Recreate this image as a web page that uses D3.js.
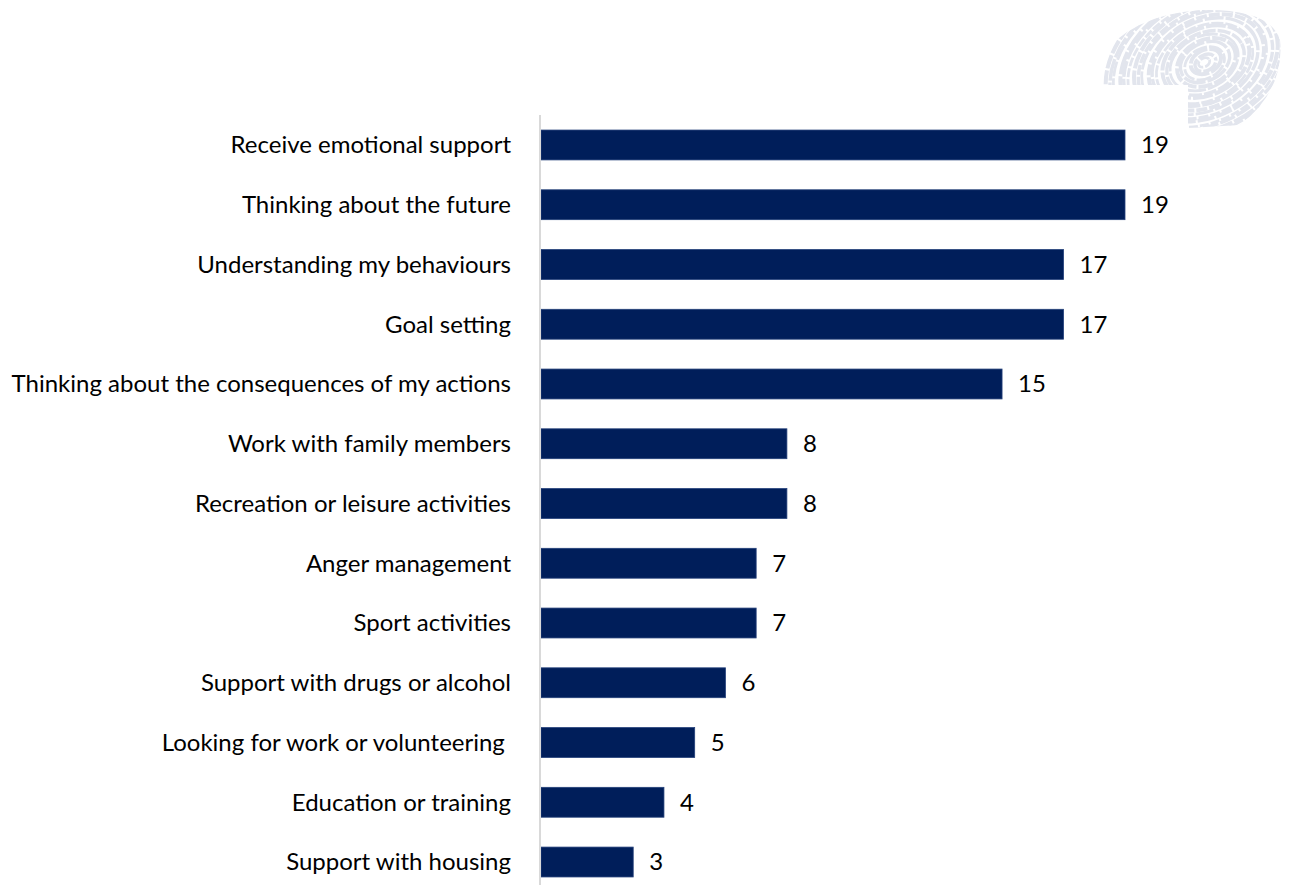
<!DOCTYPE html>
<html>
<head>
<meta charset="utf-8">
<script src="https://cdn.jsdelivr.net/npm/d3@7"></script>
<style>
  html, body { margin: 0; padding: 0; background: #ffffff; }
  svg { display: block; }
  text { font-family: Lato, "Open Sans", sans-serif; fill: #000000; }
</style>
</head>
<body>
<svg id="chart" width="1292" height="885"></svg>
<script>
// Support areas and share of responses
const categories = [
  "Receive emotional support",
  "Thinking about the future",
  "Understanding my behaviours",
  "Goal setting",
  "Thinking about the consequences of my actions",
  "Work with family members",
  "Recreation or leisure activities",
  "Anger management",
  "Sport activities",
  "Support with drugs or alcohol",
  "Looking for work or volunteering ",
  "Education or training",
  "Support with housing"
];
const values = [19, 19, 17, 17, 15, 8, 8, 7, 7, 6, 5, 4, 3];
const valueLabels = ["19", "19", "17", "17", "15", "8", "8", "7", "7", "6", "5", "4", "3"];

const svg = d3.select("#chart");
const W = 1292, H = 885;
const left = 541;

const x = d3.scaleLinear().domain([0, 19]).range([left, 1125]);
const y = d3.scaleBand()
  .domain(categories)
  .range([115.1, 891.9])
  .paddingInner(0.5)
  .paddingOuter(0.25);

// Decorative swirl mark, top right
const clip = svg.append("defs").append("clipPath").attr("id", "markClip");
clip.append("path").attr("d", "M1098,85 L1098,60 Q1130,15 1200,10 Q1270,8 1280,40 Q1285,90 1240,125 L1188,128 L1188,85 Z");
const mg = svg.append("g").attr("class", "mark").attr("clip-path", "url(#markClip)");
const cx = 1205, cy = 62;
d3.range(6, 110, 5).forEach((r, i) => {
  mg.append("ellipse")
    .attr("cx", cx + (i % 3) - 1)
    .attr("cy", cy + (i % 2))
    .attr("rx", r)
    .attr("ry", r * 0.72)
    .attr("transform", `rotate(-28 ${cx} ${cy})`)
    .attr("fill", "none")
    .attr("stroke", "#e2e5ed")
    .attr("stroke-width", 2.8 + (i % 3) * 0.6)
    .attr("stroke-dasharray", `${9 + (i * 7) % 15} ${2 + (i * 5) % 5}`)
    .attr("stroke-dashoffset", i * 13);
});

// Bars
svg.append("g").selectAll("rect")
  .data(categories)
  .join("rect")
  .attr("x", x(0))
  .attr("y", d => y(d))
  .attr("width", (d, i) => x(values[i]) - x(0))
  .attr("height", y.bandwidth())
  .attr("fill", "#001e5a")
  .attr("stroke", "#24407a")
  .attr("stroke-width", 0.8);

// Category axis line
svg.append("line")
  .attr("x1", 540).attr("x2", 540)
  .attr("y1", 115).attr("y2", H)
  .attr("stroke", "#d9d9d9")
  .attr("stroke-width", 2);

// Category labels
svg.append("g").selectAll("text")
  .data(categories)
  .join("text")
  .attr("x", 511)
  .attr("y", d => y(d) + y.bandwidth() / 2)
  .attr("dy", "0.35em")
  .attr("text-anchor", "end")
  .attr("xml:space", "preserve")
  .style("white-space", "pre")
  .style("font-size", "24px")
  .text(d => d);

// Value labels
svg.append("g").selectAll("text")
  .data(categories)
  .join("text")
  .attr("x", (d, i) => x(values[i]) + 16)
  .attr("y", d => y(d) + y.bandwidth() / 2)
  .attr("dy", "0.35em")
  .style("font-size", "24px")
  .text((d, i) => valueLabels[i]);
</script>
</body>
</html>
